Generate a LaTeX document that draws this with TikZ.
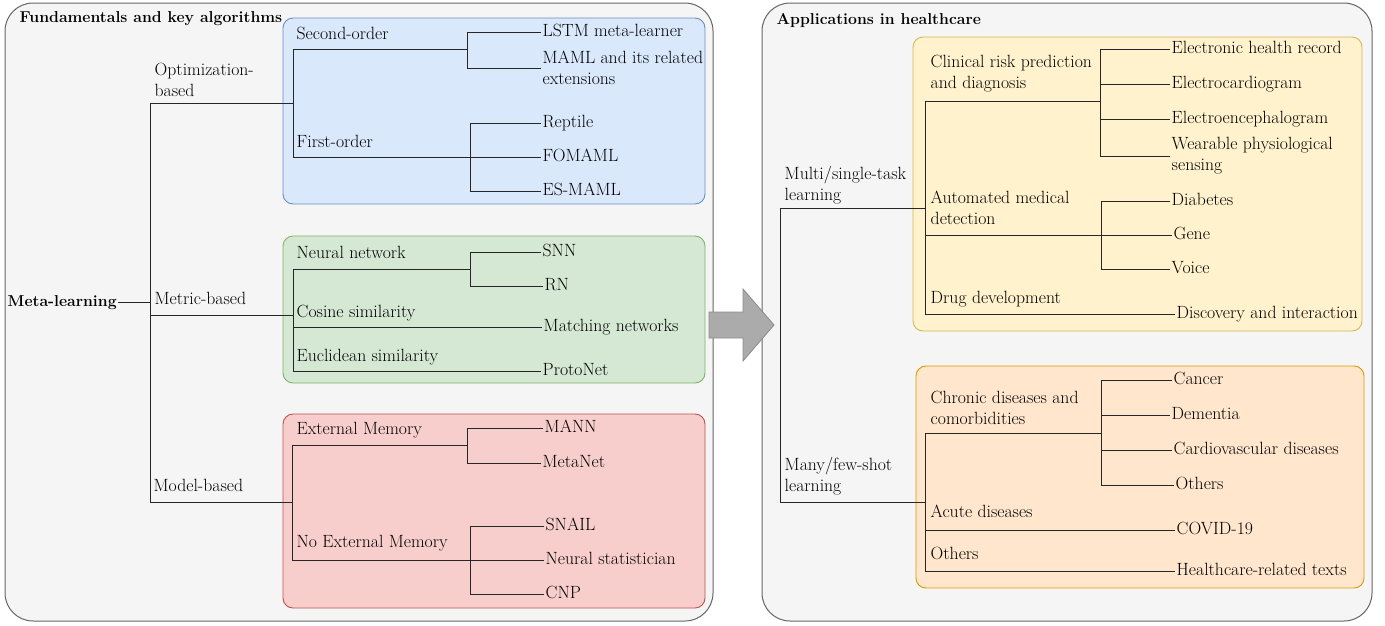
\documentclass[tikz,border=0pt]{standalone}
\definecolor{panelF}{HTML}{F5F5F5}\definecolor{panelD}{HTML}{666666}
\definecolor{blueF}{HTML}{DAE8FC}\definecolor{blueD}{HTML}{6C8EBF}
\definecolor{greenF}{HTML}{D5E8D4}\definecolor{greenD}{HTML}{82B366}
\definecolor{redF}{HTML}{F8CECC}\definecolor{redD}{HTML}{B85450}
\definecolor{yelF}{HTML}{FFF2CC}\definecolor{yelD}{HTML}{D6B656}
\definecolor{oraF}{HTML}{FFE6CC}\definecolor{oraD}{HTML}{D79B00}
\definecolor{arrF}{HTML}{ABABAB}\definecolor{arrD}{HTML}{8A8A8A}
\begin{document}
\begin{tikzpicture}[x=1pt,y=-1pt,
  every node/.style={font=\fontsize{17.7}{21}\selectfont, inner sep=1.5pt, align=left, anchor=west},
  sl/.style={text height=0.9em, text depth=0.05em},
  ttl/.style={font=\fontsize{15.8}{21}\selectfont\bfseries, text height=0.9em, text depth=0.05em},
  ln/.style={draw=black!85, line width=1pt},
  panel/.style={draw=panelD, fill=panelF, rounded corners=28pt, line width=1pt},
  grp/.style={rounded corners=10pt, line width=0.9pt}]
\useasboundingbox (0,0) rectangle (1385,625);

% panels
\path[panel] (5,3) rectangle (713,621);
\path[panel] (762,3) rectangle (1372,621);
\path[grp, fill=blueF, draw=blueD] (283,18) rectangle (705,204);
\path[grp, fill=greenF, draw=greenD] (283,236) rectangle (705,383);
\path[grp, fill=redF, draw=redD] (283,414) rectangle (705,608);
\path[grp, fill=yelF, draw=yelD] (913,37) rectangle (1362,331);
\path[grp, fill=oraF, draw=oraD] (916,366) rectangle (1364,588);

% arrow
\path[fill=arrF, draw=arrD, line width=0.8pt] (709,312) -- (743,312) -- (743,289) -- (774,325) -- (743,361) -- (743,338) -- (709,338) -- cycle;

% titles
\node[ttl] (tfund) at (18,18) {Fundamentals and key algorithms};
\node[ttl] (tapp) at (775,20) {Applications in healthcare};

% left tree labels
\node[ttl] (ml) at (6,302) {Meta-learning};
\node (opt) at (153,80) {Optimization-\\based};
\node[sl] (metric) at (153,300) {Metric-based};
\node[sl] (model) at (152,487) {Model-based};
\node[sl] (second) at (295,35) {Second-order};
\node[sl] (first) at (295,143) {First-order};
\node[sl] (nn) at (295,254) {Neural network};
\node[sl] (cos) at (295,313) {Cosine similarity};
\node[sl] (euc) at (295,357) {Euclidean similarity};
\node[sl] (ext) at (295,430) {External Memory};
\node[sl] (noext) at (295,543) {No External Memory};

% left leaves
\node[sl] (lstm) at (541,32) {LSTM meta-learner};
\node (maml) at (541,68) {MAML and its related\\extensions};
\node[sl] (reptile) at (541,123) {Reptile};
\node[sl] (fomaml) at (541,157) {FOMAML};
\node[sl] (esmaml) at (541,191) {ES-MAML};
\node[sl] (snn) at (541,252) {SNN};
\node[sl] (rn) at (543,286) {RN};
\node[sl] (match) at (542,327) {Matching networks};
\node[sl] (proto) at (541,371) {ProtoNet};
\node[sl] (mann) at (543,428) {MANN};
\node[sl] (metanet) at (541,463) {MetaNet};
\node[sl] (snail) at (544,526) {SNAIL};
\node[sl] (neural) at (544,560) {Neural statistician};
\node[sl] (cnp) at (544,594) {CNP};

% left junctions
\coordinate (ra) at (150,103);
\coordinate (rb) at (150,315);
\coordinate (rc) at (150,502);
\coordinate (ba) at (293,103);
\coordinate (bb) at (293,315);
\coordinate (bc) at (292,502);
\coordinate (b2) at (293,49);
\coordinate (b1) at (293,157);
\coordinate (s2) at (467,49);
\coordinate (s1) at (470,157);
\coordinate (g1) at (293,269);
\coordinate (g2) at (293,327);
\coordinate (g3) at (293,371);
\coordinate (gn) at (470,269);
\coordinate (m1) at (292,445);
\coordinate (m2) at (292,560);
\coordinate (me) at (467,445);
\coordinate (mn) at (470,560);

\draw[ln] (ml.east) -- (ml.east -| ra);
\draw[ln] (ra) -- (rc);
\draw[ln] (ra) -- (ba);
\draw[ln] (rb) -- (bb);
\draw[ln] (rc) -- (bc);
% blue
\draw[ln] (b2) -- (b1);
\draw[ln] (b2) -- (s2);
\draw[ln] (lstm.west) -| (s2 |- maml.west) -- (maml.west);
\draw[ln] (b1) -- (fomaml.west);
\draw[ln] (reptile.west) -| (s1 |- esmaml.west) -- (esmaml.west);
% green
\draw[ln] (g1) -- (g3);
\draw[ln] (g1) -- (gn);
\draw[ln] (snn.west) -| (gn |- rn.west) -- (rn.west);
\draw[ln] (g2) -- (match.west);
\draw[ln] (g3) -- (proto.west);
% red
\draw[ln] (m1) -- (m2);
\draw[ln] (m1) -- (me);
\draw[ln] (mann.west) -| (me |- metanet.west) -- (metanet.west);
\draw[ln] (m2) -- (neural.west);
\draw[ln] (snail.west) -| (mn |- cnp.west) -- (cnp.west);

% right tree labels
\node (multi) at (783,185.5) {Multi/single-task\\learning};
\node (many) at (783,476.5) {Many/few-shot\\learning};
\node (clin) at (929,74) {Clinical risk prediction\\and diagnosis};
\node (auto) at (929,207.5) {Automated medical\\detection};
\node[sl] (drug) at (929,299) {Drug development};
\node (chronic) at (929,407.5) {Chronic diseases and\\comorbidities};
\node[sl] (acute) at (929,513) {Acute diseases};
\node[sl] (oth1) at (929,555) {Others};

% right leaves
\node[sl] (ehr) at (1170,49) {Electronic health record};
\node[sl] (ecg) at (1170,84) {Electrocardiogram};
\node[sl] (eeg) at (1170,119) {Electroencephalogram};
\node (wear) at (1170,156) {Wearable physiological\\sensing};
\node[sl] (diab) at (1170,201) {Diabetes};
\node[sl] (gene) at (1172,235) {Gene};
\node[sl] (voice) at (1170,269) {Voice};
\node[sl] (disc) at (1175,314) {Discovery and interaction};
\node[sl] (cancer) at (1172,380) {Cancer};
\node[sl] (dem) at (1170,415) {Dementia};
\node[sl] (cardio) at (1172,450) {Cardiovascular diseases};
\node[sl] (oth2) at (1174,485) {Others};
\node[sl] (covid) at (1175,530) {COVID-19};
\node[sl] (hrt) at (1175,571) {Healthcare-related texts};

% right junctions
\coordinate (q1) at (780,208);
\coordinate (q2) at (780,502);
\coordinate (y0) at (925,208);
\coordinate (o0) at (925,502);
\coordinate (y1) at (925,101);
\coordinate (y2) at (925,235);
\coordinate (y3) at (925,314);
\coordinate (yc) at (1100,101);
\coordinate (o1) at (925,433);
\coordinate (o2) at (925,530);
\coordinate (o3) at (925,571);
\coordinate (oc) at (1101,433);
\coordinate (ya) at (1101,235);

\draw[ln] (q1) -- (q2);
\draw[ln] (q1) -- (y0);
\draw[ln] (q2) -- (o0);
% yellow
\draw[ln] (y1) -- (y3);
\draw[ln] (y1) -- (yc);
\draw[ln] (ehr.west) -| (yc |- wear.west) -- (wear.west);
\draw[ln] (yc |- ecg.west) -- (ecg.west);
\draw[ln] (yc |- eeg.west) -- (eeg.west);
\draw[ln] (y2) -- (gene.west);
\draw[ln] (diab.west) -| (ya |- voice.west) -- (voice.west);
\draw[ln] (y3) -- (disc.west);
% orange
\draw[ln] (o1) -- (o3);
\draw[ln] (o1) -- (oc);
\draw[ln] (cancer.west) -| (oc |- oth2.west) -- (oth2.west);
\draw[ln] (oc |- dem.west) -- (dem.west);
\draw[ln] (oc |- cardio.west) -- (cardio.west);
\draw[ln] (o2) -- (covid.west);
\draw[ln] (o3) -- (hrt.west);
\end{tikzpicture}
\end{document}
